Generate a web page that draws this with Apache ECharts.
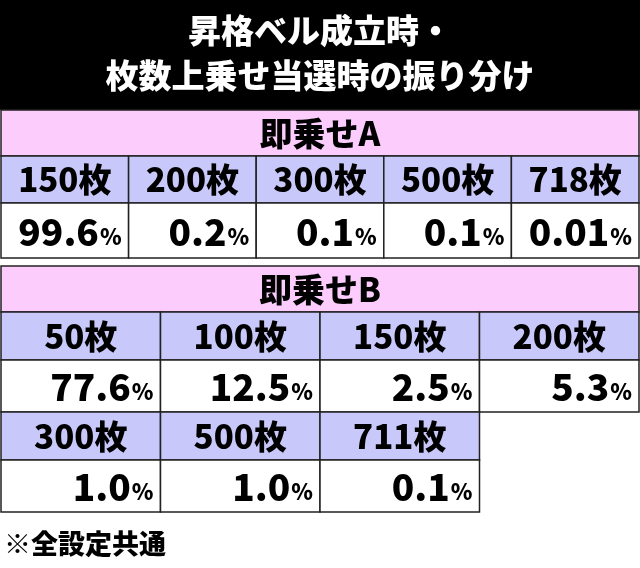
<!DOCTYPE html><html><head><meta charset="utf-8"><script src="https://cdn.jsdelivr.net/npm/echarts@6/dist/echarts.min.js"></script>
<style>body{margin:0}#c{width:640px;height:568px}</style></head><body><div id="c"></div><script>
const titleLines=['昇格ベル成立時・','枚数上乗せ当選時の振り分け'];
const tableATitle='即乗せA';
const tableALabels=['150枚','200枚','300枚','500枚','718枚'];
const tableAValues=['99.6','0.2','0.1','0.1','0.01'];
const tableBTitle='即乗せB';
const tableBLabels=['50枚','100枚','150枚','200枚','300枚','500枚','711枚'];
const tableBValues=['77.6','12.5','2.5','5.3','1.0','1.0','0.1'];
const footnote='※全設定共通';
const F='"Noto Sans CJK JP", sans-serif';
const PINK='#fccdfc', LAV='#c8c8fa', LINE='#222';
const g=[];
function txt(x,y,t,size,fill,align){return {type:'text',x,y,style:{text:t,fill,fontSize:size,fontWeight:900,fontFamily:F,align:align||'center',verticalAlign:'middle'}};}
g.push({type:'rect',shape:{x:0,y:0,width:640,height:110},style:{fill:'#000'}});
titleLines.forEach((t,i)=>g.push(txt(320,30+i*45,t,33,'#fff')));
function cell(x,y,w,h,fill){g.push({type:'rect',shape:{x,y,width:w,height:h},style:{fill,stroke:LINE,lineWidth:1.5}});}
function label(x,y,w,h,t){g.push(txt(x+w/2,y+h/2,t,33,'#000'));}
function val(x,y,w,h,v){g.push({type:'text',x:x+w-7,y:y+h/2+1,style:{text:'{a|'+v+'}{b|%}',rich:{a:{fontSize:37,fontWeight:900,fontFamily:F,fill:'#000'},b:{fontSize:22,fontWeight:900,fontFamily:F,fill:'#000',padding:[10,0,0,1]}},align:'right',verticalAlign:'middle'}});}
cell(1,110,638,46,PINK);label(1,110,638,46,tableATitle);
const wA=638/5;
tableALabels.forEach((t,i)=>{const x=1+i*wA;cell(x,156,wA,47,LAV);label(x,156,wA,47,t);cell(x,203,wA,55,'#fff');val(x,203,wA,55,tableAValues[i]);});
cell(1,266,638,46,PINK);label(1,266,638,46,tableBTitle);
const wB=638/4;
tableBLabels.forEach((t,i)=>{const r=Math.floor(i/4),c=i%4;const x=1+c*wB,y=312+r*100;cell(x,y,wB,48,LAV);label(x,y,wB,48,t);cell(x,y+48,wB,52,'#fff');val(x,y+48,wB,52,tableBValues[i]);});
g.push(txt(4,544,footnote,27,'#000','left'));
const ch=echarts.init(document.getElementById('c'));
ch.setOption({backgroundColor:'#fff',graphic:g});
</script></body></html>
